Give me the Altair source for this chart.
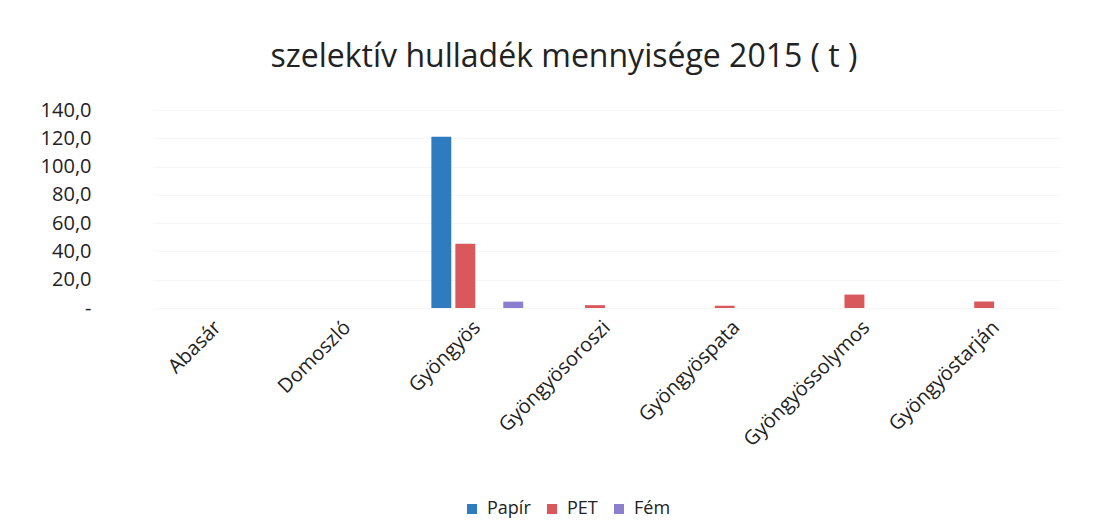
import altair as alt
import pandas as pd

categories = ["Abasár", "Domoszló", "Gyöngyös", "Gyöngyösoroszi",
              "Gyöngyöspata", "Gyöngyössolymos", "Gyöngyöstarján"]
series = ["Papír", "PET", "Üveg", "Fém"]
papir = [0, 0, 121.0, 0, 0, 0, 0]
pet = [0, 0, 45.5, 2.0, 1.6, 9.5, 4.6]
uveg = [0, 0, 0, 0, 0, 0, 0]
fem = [0, 0, 4.5, 0, 0, 0, 0]

legend_series = ["Papír", "PET", "Fém"]
colors = ["#2f7bc0", "#d9585c", "#8a80cf"]

rows = []
for s, vals in zip(series, [papir, pet, uveg, fem]):
    for c, v in zip(categories, vals):
        rows.append({"telepules": c, "tipus": s, "ertek": v})
df = pd.DataFrame(rows)
df = df[df["tipus"] != "Üveg"]

FONT = "Open Sans"

chart = alt.Chart(df).mark_bar().encode(
    x=alt.X("telepules:N", sort=categories, title=None,
            scale=alt.Scale(paddingInner=0, paddingOuter=0),
            axis=alt.Axis(labelAngle=-45, labelAlign="right", labelBaseline="middle",
                          labelFontSize=20, labelFont=FONT, labelColor="#222222",
                          ticks=False, domain=False, labelPadding=16)),
    xOffset=alt.XOffset("tipus:N", sort=series,
                        scale=alt.Scale(domain=series, paddingInner=0.17, paddingOuter=0.79)),
    y=alt.Y("ertek:Q", title=None,
            scale=alt.Scale(domain=[0, 140]),
            axis=alt.Axis(values=[0, 20, 40, 60, 80, 100, 120, 140],
                          labelExpr="datum.value == 0 ? '-' : replace(format(datum.value, '.1f'), '.', ',')",
                          labelFontSize=20, labelFont=FONT, labelColor="#222222",
                          ticks=False, domain=False, labelPadding=62,
                          grid=True, gridColor="#f6f6f6")),
    color=alt.Color("tipus:N",
                    scale=alt.Scale(domain=legend_series, range=colors),
                    legend=alt.Legend(title=None, orient="none", direction="horizontal",
                                      legendX=310, legendY=390,
                                      symbolType="square", symbolSize=100,
                                      labelFontSize=18, labelFont=FONT, labelColor="#222222",
                                      labelOffset=6,
                                      columnPadding=12, symbolStrokeWidth=0)),
).properties(
    width=908,
    height=198,
    padding={"left": 32, "top": 33, "right": 5, "bottom": 5},
    title=alt.TitleParams("szelektív hulladék mennyisége 2015 ( t )",
                          fontSize=32, font=FONT, fontWeight="normal",
                          color="#222222", anchor="middle", offset=26, dx=-43),
).configure_view(stroke=None)

chart.save("out.html", embed_options={"renderer": "svg", "actions": False})
